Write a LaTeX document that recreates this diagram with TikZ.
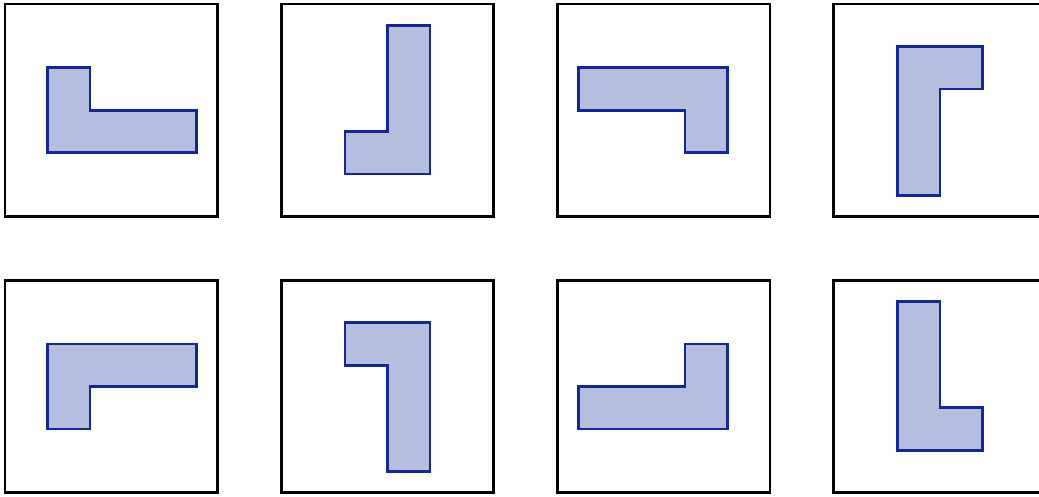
\documentclass[tikz,border=0pt]{standalone}
\usepackage{tikz}
\definecolor{piecefill}{RGB}{182,190,224}
\definecolor{pieceline}{RGB}{20,38,152}

\begin{document}
\begin{tikzpicture}[x=1cm, y=1cm,
    frame/.style={draw=black, line width=1.8pt},
    piece/.style={draw=pieceline, fill=piecefill, line width=1.8pt, line join=miter}]
    \useasboundingbox (-0.118,-0.094) rectangle (24.329,11.594);
    % frames
    \foreach \col in {0,1,2,3}
        \foreach \row in {0,1}
            \draw[frame] (6.5*\col,6.5*\row) rectangle ++(5,5);
    % top row
    \begin{scope}[shift={(0,6.5)}]
        \draw[piece] (1,3.5) -- (2,3.5) -- (2,2.5) -- (4.5,2.5) -- (4.5,1.5) -- (1,1.5) -- cycle;
    \end{scope}
    \begin{scope}[shift={(6.5,6.5)}]
        \draw[piece] (2.5,4.5) -- (3.5,4.5) -- (3.5,1) -- (1.5,1) -- (1.5,2) -- (2.5,2) -- cycle;
    \end{scope}
    \begin{scope}[shift={(13,6.5)}]
        \draw[piece] (0.5,3.5) -- (4,3.5) -- (4,1.5) -- (3,1.5) -- (3,2.5) -- (0.5,2.5) -- cycle;
    \end{scope}
    \begin{scope}[shift={(19.5,6.5)}]
        \draw[piece] (1.5,4) -- (3.5,4) -- (3.5,3) -- (2.5,3) -- (2.5,0.5) -- (1.5,0.5) -- cycle;
    \end{scope}
    % bottom row
    \begin{scope}[shift={(0,0)}]
        \draw[piece] (1,3.5) -- (4.5,3.5) -- (4.5,2.5) -- (2,2.5) -- (2,1.5) -- (1,1.5) -- cycle;
    \end{scope}
    \begin{scope}[shift={(6.5,0)}]
        \draw[piece] (1.5,4) -- (3.5,4) -- (3.5,0.5) -- (2.5,0.5) -- (2.5,3) -- (1.5,3) -- cycle;
    \end{scope}
    \begin{scope}[shift={(13,0)}]
        \draw[piece] (3,3.5) -- (4,3.5) -- (4,1.5) -- (0.5,1.5) -- (0.5,2.5) -- (3,2.5) -- cycle;
    \end{scope}
    \begin{scope}[shift={(19.5,0)}]
        \draw[piece] (1.5,4.5) -- (2.5,4.5) -- (2.5,2) -- (3.5,2) -- (3.5,1) -- (1.5,1) -- cycle;
    \end{scope}
\end{tikzpicture}
\end{document}
